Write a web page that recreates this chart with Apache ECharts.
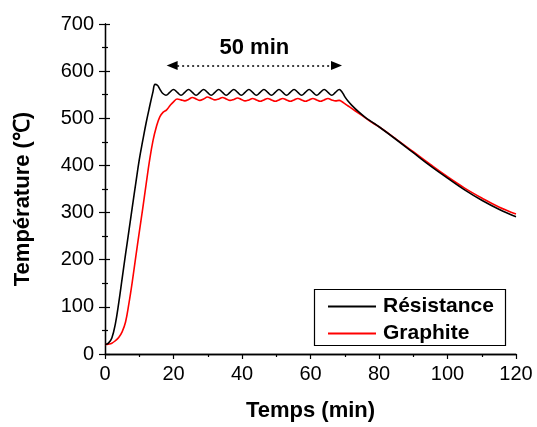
<!DOCTYPE html>
<html><head><meta charset="utf-8">
<script src="https://cdn.jsdelivr.net/npm/echarts@6/dist/echarts.min.js"></script>
<style>html,body{margin:0;padding:0;background:#fff}#c{width:537px;height:427px}</style>
</head><body><div id="c"></div>
<script>
const xTicks = [0,20,40,60,80,100,120];
const yTicks = [0,100,200,300,400,500,600,700];
const seriesNames = ['Résistance','Graphite'];
const tBlack = [0,1,2,3,4,5,6,7,8,9,10,11,12,13,14,14.6,15.3,16.0,16.8,17.8,
 18.9,20.0,21.1,22.2,23.3,24.4,25.5,26.6,27.7,28.8,29.9,31.0,32.1,33.2,34.3,35.4,36.5,37.6,38.7,39.8,
 40.9,42.0,43.1,44.2,45.3,46.4,47.5,48.6,49.7,50.8,51.9,53.0,54.1,55.2,56.3,57.4,58.5,59.6,60.7,61.8,
 62.9,64.0,65.1,66.2,67.3,68.4,69.2,70,71,72,74,76,78,80,85,90,95,100,105,110,115,120];
const vBlack = [20,23,34,63,108,160,212,262,313,363,412,452,490,524,556,572,570,562,553,549,
 555,561,555,549,555,561,555,549,555,561,555,549,555,561,555,549,555,561,555,549,
 555,561,555,549,555,561,555,549,555,561,555,549,555,561,555,549,555,561,555,549,
 555,561,555,549,555,561,556,546,536,528,514,502,492,482,455,427,399,373,348,326,307,291];
const tRed = [0,1,2,3,4,5,6,7,8,9,10,11,12,13,14,15,16,17,18,19,20.0,
 21.1,22.2,23.3,24.4,25.5,26.6,27.7,28.8,29.9,31.0,32.1,33.2,34.3,35.4,36.5,37.6,38.7,39.8,
 40.9,42.0,43.1,44.2,45.3,46.4,47.5,48.6,49.7,50.8,51.9,53.0,54.1,55.2,56.3,57.4,58.5,59.6,60.7,61.8,
 62.9,64.0,65.1,66.2,67.3,68.4,69.2,70,71,72,74,76,78,80,85,90,95,100,105,110,115,120];
const vRed = [20,21,23,28,35,47,68,108,155,207,258,308,360,410,452,482,503,513,518,527,535,
 541,539,537,540,544,541,538,541,545,542,539,541,544,541,538,540,543,540,
 537,539,542,539,536,539,542,539,536,539,542,539,536,539,542,539,536,539,542,539,
 536,539,542,539,537,538,535,531,526,521,511,501,491,482,456,429,402,376,352,331,312,297];
const arrowFrom = [19.6, 612];
const arrowTo = [67.6, 612];
const arrowText = '50 min';

const zip = (a,b)=>a.map((x,i)=>[x,b[i]]);
const F = "'Liberation Sans', Arial, sans-serif";
const chart = echarts.init(document.getElementById('c'), null, {renderer:'canvas'});
const axisLine = {show:true, lineStyle:{color:'#000', width:1.3}};
chart.setOption({
  animation:false,
  grid:{left:105, right:21, top:24, bottom:70},
  xAxis:[{
    type:'value', min:0, max:120, interval:20, position:'bottom',
    axisLine, axisTick:{show:true, inside:false, length:5, lineStyle:{color:'#000',width:1.2}},
    minorTick:{show:true, splitNumber:2, length:3, lineStyle:{color:'#000',width:1.2}},
    splitLine:{show:false},
    axisLabel:{color:'#000', fontFamily:F, fontSize:20, margin:10},
    name:'Temps (min)', nameLocation:'middle', nameGap:46,
    nameTextStyle:{color:'#000', fontFamily:F, fontSize:22, fontWeight:'bold'}
  },{
    type:'value', min:0, max:120, interval:20, position:'top',
    axisLine, axisTick:{show:false}, axisLabel:{show:false}, splitLine:{show:false}
  }],
  yAxis:[{
    type:'value', min:0, max:700, interval:100, position:'left',
    axisLine, axisTick:{show:true, inside:false, length:6, lineStyle:{color:'#000',width:1.2}},
    minorTick:{show:true, splitNumber:2, length:3, lineStyle:{color:'#000',width:1.2}},
    splitLine:{show:false},
    axisLabel:{color:'#000', fontFamily:F, fontSize:20, margin:11},
    name:'Température (℃)', nameLocation:'middle', nameGap:71,
    nameTextStyle:{color:'#000', fontFamily:F, fontSize:22, fontWeight:'bold', padding:[0,20,0,0]}
  },{
    type:'value', min:0, max:700, interval:100, position:'right',
    axisLine, axisTick:{show:true, inside:false, length:5, lineStyle:{color:'#000',width:1.2}},
    minorTick:{show:true, splitNumber:2, length:3, lineStyle:{color:'#000',width:1.2}},
    axisLabel:{show:false}, splitLine:{show:false}
  }],
  legend:{
    orient:'vertical', left:327, top:296, itemWidth:48, itemHeight:14, itemGap:6,
    padding:0, itemStyle:{opacity:0},
    textStyle:{color:'#000', fontFamily:F, fontSize:21, fontWeight:'bold', padding:[0,0,0,2]},
    data:seriesNames
  },
  graphic:[{
    type:'rect', left:312, top:287, shape:{width:191, height:56},
    style:{fill:'none', stroke:'#000', lineWidth:1.2}, z:10
  }],
  series:[{
    name:seriesNames[0], type:'line', data:zip(tBlack,vBlack), smooth:0.4,
    symbol:'none', lineStyle:{color:'#000', width:1.6}, itemStyle:{color:'#000'}, z:3,
    markLine:{
      silent:true, symbol:['triangle','triangle'], symbolSize:[9,11],
      lineStyle:{color:'#000', type:[2,3], width:1.5},
      itemStyle:{color:'#000'},
      label:{show:true, formatter:arrowText, position:'insideMiddleTop', distance:7,
        color:'#000', fontFamily:F, fontSize:22, fontWeight:'bold'},
      data:[[{coord:arrowFrom},{coord:arrowTo}]]
    }
  },{
    name:seriesNames[1], type:'line', data:zip(tRed,vRed), smooth:0.4,
    symbol:'none', lineStyle:{color:'#ff0000', width:1.6}, itemStyle:{color:'#ff0000'}, z:2
  }]
});
</script></body></html>
